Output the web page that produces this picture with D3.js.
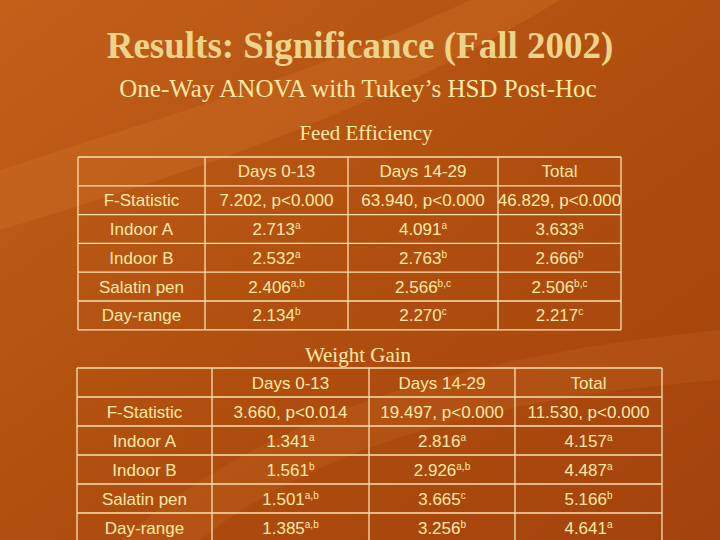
<!DOCTYPE html>
<html><head><meta charset="utf-8">
<script src="https://cdn.jsdelivr.net/npm/d3@7"></script>
<style>body{margin:0;overflow:hidden}</style>
</head><body>
<svg id="c" width="720" height="540"></svg>
<script>
const columns = ["Days 0-13", "Days 14-29", "Total"];
const rowLabels = ["F-Statistic", "Indoor A", "Indoor B", "Salatin pen", "Day-range"];

// [value, superscript]
const feedEff = [
  [["7.202, p<0.000", ""], ["63.940, p<0.000", ""], ["46.829, p<0.000", ""]],
  [["2.713", "a"], ["4.091", "a"], ["3.633", "a"]],
  [["2.532", "a"], ["2.763", "b"], ["2.666", "b"]],
  [["2.406", "a,b"], ["2.566", "b,c"], ["2.506", "b,c"]],
  [["2.134", "b"], ["2.270", "c"], ["2.217", "c"]]
];
const weightGain = [
  [["3.660, p<0.014", ""], ["19.497, p<0.000", ""], ["11.530, p<0.000", ""]],
  [["1.341", "a"], ["2.816", "a"], ["4.157", "a"]],
  [["1.561", "b"], ["2.926", "a,b"], ["4.487", "a"]],
  [["1.501", "a,b"], ["3.665", "c"], ["5.166", "b"]],
  [["1.385", "a,b"], ["3.256", "b"], ["4.641", "a"]]
];

const svg = d3.select("#c");
const defs = svg.append("defs");
const g = defs.append("linearGradient").attr("id", "bg").attr("x1", 0).attr("y1", 0).attr("x2", 1).attr("y2", 1);
g.append("stop").attr("offset", "0%").attr("stop-color", "#c2601a");
g.append("stop").attr("offset", "45%").attr("stop-color", "#b25010");
g.append("stop").attr("offset", "100%").attr("stop-color", "#a3420c");
svg.append("rect").attr("width", 720).attr("height", 540).attr("fill", "url(#bg)");
// soft swooshes
svg.append("path").attr("d", "M0,170 C150,120 300,80 470,0 L560,0 C380,110 200,170 0,230 Z").attr("fill", "#d4782c").attr("opacity", 0.3);
svg.append("path").attr("d", "M120,540 C250,430 420,360 720,330 L720,380 C460,400 300,460 200,540 Z").attr("fill", "#c26320").attr("opacity", 0.3);

const serif = "'Liberation Serif', 'Times New Roman', serif";
const sans = "'Liberation Sans', Arial, sans-serif";
const txt = "#fbe9a6";

svg.append("text").attr("x", 360).attr("y", 58).attr("text-anchor", "middle")
  .attr("font-family", serif).attr("font-weight", "bold").attr("font-size", 37).attr("fill", "#ecd48a")
  .text("Results: Significance (Fall 2002)");
svg.append("text").attr("x", 358).attr("y", 97).attr("text-anchor", "middle")
  .attr("font-family", serif).attr("font-size", 25).attr("fill", txt)
  .text("One-Way ANOVA with Tukey\u2019s HSD Post-Hoc");

function table(title, titleX, titleY, data, xEdges, yTop, rowH) {
  svg.append("text").attr("x", titleX).attr("y", titleY).attr("text-anchor", "middle")
    .attr("font-family", serif).attr("font-size", 21).attr("fill", txt).text(title);
  const nRows = data.length + 1;
  const y = d3.scaleLinear().domain([0, nRows]).range([yTop, yTop + nRows * rowH]);
  const grid = svg.append("g").attr("stroke", "#f5e2b0").attr("stroke-width", 1.3).attr("fill", "none");
  d3.range(nRows + 1).forEach(i => grid.append("line").attr("x1", xEdges[0]).attr("x2", xEdges[4]).attr("y1", y(i)).attr("y2", y(i)));
  xEdges.forEach(x => grid.append("line").attr("x1", x).attr("x2", x).attr("y1", y(0)).attr("y2", y(nRows)));
  const cx = i => (xEdges[i] + xEdges[i + 1]) / 2;
  const t = svg.append("g").attr("font-family", sans).attr("font-size", 17).attr("fill", txt).attr("text-anchor", "middle");
  columns.forEach((c, j) => t.append("text").attr("x", cx(j + 1)).attr("y", y(0.5) + 6).text(c));
  rowLabels.forEach((r, i) => t.append("text").attr("x", cx(0)).attr("y", y(i + 1.5) + 6).text(r));
  data.forEach((row, i) => row.forEach((cell, j) => {
    const el = t.append("text").attr("x", cx(j + 1)).attr("y", y(i + 1.5) + 6);
    el.append("tspan").text(cell[0]);
    if (cell[1]) el.append("tspan").attr("font-size", 10).attr("dy", -6).text(cell[1]);
  }));
}

table("Feed Efficiency", 366, 140, feedEff, [78, 205, 348, 498, 621], 157, 28.8);
table("Weight Gain", 358, 362, weightGain, [77, 212, 369, 515, 662], 368, 29);
</script>
</body></html>
